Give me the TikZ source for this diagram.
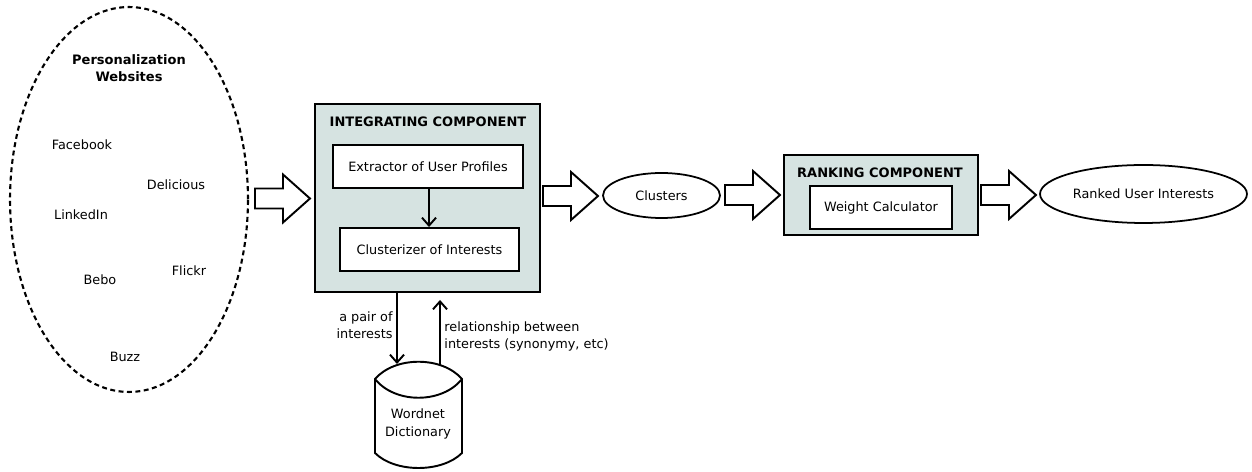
\documentclass[tikz,border=0pt]{standalone}
\usepackage{fontspec}
\setmainfont{DejaVu Sans}
\usepackage{tikz}
\usetikzlibrary{arrows.meta,shapes.geometric}

\definecolor{compfill}{RGB}{214,227,225}

\begin{document}
\begin{tikzpicture}[x=0.02cm,y=-0.02cm,
    every node/.style={font=\fontsize{7.3}{9.8}\selectfont,align=center},
    comp/.style={draw,line width=1.1pt,fill=compfill,inner sep=0pt},
    inbox/.style={draw,line width=1.1pt,fill=white,inner sep=0pt,minimum height=0.86cm},
    title/.style={font=\fontsize{7.4}{9.8}\selectfont\bfseries},
    oval/.style={draw,ellipse,line width=1pt,inner sep=0pt},
    >={Straight Barb[length=4.5pt,width=8pt]},
    pics/blockarrow/.style={code={
        \draw[line width=1.1pt,fill=white] (0,-10) -- (28,-10) -- (28,-24) -- (55,0)
            -- (28,24) -- (28,10) -- (0,10) -- cycle;}}
]
    \useasboundingbox (0,0) rectangle (1252,472);

    % sources
    \node[oval,line width=1.2pt,dash pattern=on 2.8pt off 2pt,minimum width=4.76cm,minimum height=7.7cm] (web) at (129,199.5) {};
    \node[title] (webtitle) at (129,68) {Personalization\\Websites};
    \node (facebook) at (82,145) {Facebook};
    \node (delicious) at (176,185) {Delicious};
    \node (linkedin) at (81,215) {LinkedIn};
    \node (flickr) at (189,271) {Flickr};
    \node (bebo) at (100,280) {Bebo};
    \node (buzz) at (125,357) {Buzz};

    % integrating component
    \node[comp,minimum width=4.5cm,minimum height=3.76cm] (integ) at (427.5,198) {};
    \node[title] (integtitle) at (428,122) {INTEGRATING COMPONENT};
    \node[inbox,minimum width=3.8cm] (extr) at (428,166.5) {Extractor of User Profiles};
    \node[inbox,minimum width=3.58cm] (clus) at (429.5,249.5) {Clusterizer of Interests};
    \draw[->,line width=1.1pt] (extr.south -| 429,0) -- (clus.north -| 429,0);

    % wordnet
    \draw[line width=1.1pt,fill=white] (375,379) .. controls (395,356) and (442,356) .. (462,379)
        -- (462,453) .. controls (442,473) and (395,473) .. (375,453) -- cycle;
    \draw[line width=1.1pt] (375,379) .. controls (395,404) and (442,404) .. (462,379);
    \node (wordnet) at (418,424) {Wordnet\\Dictionary};
    \coordinate (wnin) at (397,364);
    \coordinate (wnout) at (440,366);
    \draw[->,line width=1.1pt] (integ.south -| wnin) -- (wnin)
        node[pos=0.45,left,align=right,inner sep=2pt] {a pair of\\interests};
    \draw[->,line width=1.1pt] (wnout) -- ([yshift=-4]integ.south -| wnout)
        node[pos=0.45,right,align=left,inner sep=2pt] {relationship between\\interests (synonymy, etc)};

    % clusters and ranking
    \node[oval,minimum width=2.34cm,minimum height=0.9cm] (clusters) at (661.5,195.5) {Clusters};
    \node[comp,minimum width=3.88cm,minimum height=1.6cm] (rank) at (881,195) {};
    \node[title] (ranktitle) at (880,173) {RANKING COMPONENT};
    \node[inbox,minimum width=2.84cm] (weight) at (881,207.5) {Weight Calculator};
    \node[oval,minimum width=4.14cm,minimum height=1.16cm] (ranked) at (1143.5,194) {Ranked User Interests};

    % block arrows
    \foreach \x/\y in {255/198.5,543/196,725/195,981/195}
        \pic at (\x,\y) {blockarrow};
\end{tikzpicture}
\end{document}
